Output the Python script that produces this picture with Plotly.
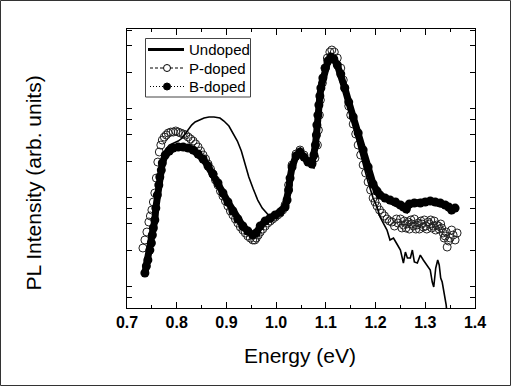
import plotly.graph_objects as go

# ---------------- data (y stored as log10 of PL intensity, arb. units) ----------------
undoped_energy = [0.736, 0.742, 0.746, 0.751, 0.756, 0.761, 0.766, 0.771, 0.777, 0.785, 0.793, 0.803,
                  0.811, 0.817, 0.823, 0.830, 0.837, 0.845, 0.855, 0.865, 0.875, 0.887,
                  0.895, 0.905, 0.913, 0.922, 0.930, 0.937, 0.945, 0.954, 0.963, 0.972,
                  0.980, 0.988, 0.998, 1.008, 1.018, 1.025, 1.032, 1.040, 1.048, 1.056,
                  1.064, 1.072, 1.078, 1.082, 1.085, 1.089, 1.093, 1.099, 1.105, 1.111,
                  1.117, 1.123, 1.130, 1.138, 1.146, 1.155, 1.165, 1.175, 1.185, 1.195,
                  1.203, 1.209, 1.216, 1.223, 1.229, 1.236, 1.243, 1.250, 1.256, 1.260,
                  1.264, 1.270, 1.274, 1.278, 1.284, 1.290, 1.296, 1.302, 1.306, 1.310,
                  1.314, 1.317, 1.321, 1.325, 1.328, 1.331, 1.334, 1.338, 1.342, 1.345]
undoped_log10 = [0.157, 0.315, 0.416, 0.596, 0.798, 1.079, 1.303, 1.449, 1.528, 1.584, 1.607, 1.629,
                 1.663, 1.708, 1.764, 1.809, 1.843, 1.865, 1.888, 1.899, 1.899, 1.888,
                 1.854, 1.798, 1.719, 1.629, 1.517, 1.382, 1.225, 1.090, 0.966, 0.876,
                 0.820, 0.775, 0.798, 0.831, 0.888, 1.079, 1.337, 1.461, 1.506, 1.449,
                 1.393, 1.371, 1.438, 1.562, 1.753, 2.090, 2.292, 2.449, 2.539, 2.584,
                 2.562, 2.517, 2.427, 2.225, 2.022, 1.820, 1.584, 1.360, 1.169, 0.989,
                 0.888, 0.775, 0.697, 0.629, 0.517, 0.539, 0.472, 0.404, 0.258, 0.382,
                 0.315, 0.315, 0.404, 0.270, 0.258, 0.348, 0.292, 0.247, 0.213, 0.180,
                 0.045, -0.011, 0.202, 0.292, 0.236, 0.090, 0.045, -0.079, -0.213, -0.382]

p_energy = [0.732, 0.736, 0.740, 0.744, 0.747, 0.750, 0.753, 0.756, 0.759, 0.762, 0.765, 0.768,
            0.771, 0.775, 0.779, 0.783, 0.788, 0.793, 0.798, 0.803, 0.808, 0.813, 0.818, 0.823,
            0.828, 0.833, 0.838, 0.843, 0.848, 0.853, 0.858, 0.863, 0.868, 0.873, 0.878, 0.883,
            0.888, 0.893, 0.898, 0.903, 0.908, 0.913, 0.918, 0.923, 0.928, 0.933, 0.938, 0.943,
            0.948, 0.953, 0.957, 0.960, 0.964, 0.968, 0.973, 0.978, 0.983, 0.988, 0.993, 0.998,
            1.003, 1.008, 1.013, 1.018, 1.025, 1.032, 1.040, 1.048, 1.056, 1.064, 1.072, 1.078,
            1.083, 1.085, 1.087, 1.089, 1.093, 1.098, 1.103, 1.108, 1.112, 1.117, 1.123, 1.130,
            1.135, 1.138, 1.146, 1.150, 1.155, 1.160, 1.165, 1.170, 1.175, 1.180, 1.185, 1.190,
            1.195, 1.199, 1.203, 1.208, 1.213, 1.218, 1.223, 1.228, 1.233, 1.238, 1.242, 1.245,
            1.250, 1.253, 1.256, 1.258, 1.261, 1.263, 1.266, 1.268, 1.271, 1.273, 1.276, 1.278,
            1.281, 1.283, 1.286, 1.288, 1.291, 1.293, 1.296, 1.298, 1.301, 1.303, 1.306, 1.308,
            1.311, 1.313, 1.316, 1.318, 1.321, 1.323, 1.326, 1.328, 1.331, 1.333, 1.336, 1.338,
            1.340, 1.342, 1.344, 1.347, 1.350, 1.353, 1.356, 1.360, 1.364]
p_log10 = [0.427, 0.517, 0.607, 0.719, 0.787, 0.854, 0.944, 1.045, 1.213, 1.393, 1.506, 1.584,
           1.640, 1.674, 1.697, 1.719, 1.730, 1.730, 1.742, 1.730, 1.719, 1.708, 1.697, 1.674,
           1.652, 1.629, 1.596, 1.562, 1.517, 1.472, 1.427, 1.371, 1.315, 1.258, 1.191, 1.135,
           1.067, 1.011, 0.955, 0.899, 0.843, 0.798, 0.753, 0.708, 0.663, 0.629, 0.596, 0.562,
           0.539, 0.517, 0.517, 0.539, 0.573, 0.607, 0.640, 0.674, 0.708, 0.730, 0.753, 0.775,
           0.798, 0.820, 0.854, 0.910, 1.135, 1.360, 1.483, 1.528, 1.472, 1.404, 1.382, 1.438,
           1.584, 1.753, 1.921, 2.090, 2.281, 2.449, 2.562, 2.629, 2.652, 2.629, 2.562, 2.449,
           2.315, 2.225, 2.022, 1.921, 1.820, 1.708, 1.584, 1.472, 1.360, 1.270, 1.169, 1.079,
           0.989, 0.944, 0.899, 0.854, 0.820, 0.787, 0.753, 0.730, 0.719, 0.674, 0.753, 0.708,
           0.753, 0.652, 0.685, 0.730, 0.652, 0.697, 0.719, 0.640, 0.742, 0.697, 0.674, 0.753,
           0.640, 0.685, 0.708, 0.640, 0.730, 0.697, 0.663, 0.742, 0.674, 0.640, 0.719, 0.697,
           0.742, 0.652, 0.674, 0.730, 0.629, 0.685, 0.674, 0.640, 0.697, 0.652, 0.596, 0.539,
           0.562, 0.607, 0.438, 0.506, 0.539, 0.629, 0.573, 0.517, 0.596]

b_energy = [0.736, 0.739, 0.742, 0.746, 0.749, 0.751, 0.753, 0.756, 0.758, 0.761, 0.764, 0.766,
            0.769, 0.771, 0.777, 0.785, 0.793, 0.803, 0.813, 0.823, 0.833, 0.843, 0.853, 0.863,
            0.873, 0.883, 0.893, 0.903, 0.913, 0.923, 0.933, 0.943, 0.953, 0.960, 0.968, 0.978,
            0.988, 0.998, 1.008, 1.018, 1.022, 1.025, 1.028, 1.032, 1.040, 1.048, 1.056, 1.064,
            1.072, 1.076, 1.079, 1.081, 1.082, 1.084, 1.086, 1.088, 1.090, 1.094, 1.099, 1.104,
            1.110, 1.116, 1.123, 1.130, 1.138, 1.146, 1.155, 1.165, 1.175, 1.185, 1.195, 1.203,
            1.209, 1.219, 1.229, 1.240, 1.250, 1.256, 1.262, 1.268, 1.278, 1.290, 1.300, 1.310,
            1.320, 1.330, 1.340, 1.347, 1.353, 1.360]
b_log10 = [0.146, 0.225, 0.292, 0.404, 0.483, 0.573, 0.652, 0.742, 0.876, 1.022, 1.135, 1.225,
           1.303, 1.382, 1.472, 1.517, 1.551, 1.562, 1.562, 1.551, 1.528, 1.483, 1.427, 1.348,
           1.258, 1.157, 1.045, 0.944, 0.843, 0.753, 0.674, 0.618, 0.573, 0.596, 0.674, 0.730,
           0.764, 0.798, 0.831, 0.888, 0.966, 1.079, 1.213, 1.337, 1.461, 1.506, 1.449, 1.393,
           1.371, 1.472, 1.584, 1.697, 1.809, 1.921, 2.034, 2.135, 2.225, 2.337, 2.449, 2.528,
           2.573, 2.551, 2.483, 2.382, 2.225, 2.067, 1.899, 1.719, 1.528, 1.337, 1.146, 1.067,
           1.022, 0.989, 0.966, 0.944, 0.910, 0.888, 0.865, 0.921, 0.933, 0.933, 0.944, 0.955,
           0.944, 0.933, 0.910, 0.888, 0.854, 0.876]

assert len(undoped_energy) == len(undoped_log10)
assert len(p_energy) == len(p_log10)
assert len(b_energy) == len(b_log10)

series_names = ["Undoped", "P-doped", "B-doped"]
x_tick_labels = ["0.7", "0.8", "0.9", "1.0", "1.1", "1.2", "1.3", "1.4"]
x_tick_values = [0.7, 0.8, 0.9, 1.0, 1.1, 1.2, 1.3, 1.4]
y_tick_values = [0.75, 1, 2.5, 5, 7.5, 10, 25, 50, 75, 100, 250, 500, 750]

FONT = "Liberation Sans, Arial, Helvetica, sans-serif"

# plot-area geometry in pixels (for placing the legend box / outer frame)
W, H = 512, 387
ML, MR, MT, MB = 127, 37, 29, 79
PW, PH = W - ML - MR, H - MT - MB


def px(xp):
    return (xp - ML) / PW


def py(yp):
    return (H - MB - yp) / PH


fig = go.Figure()

fig.add_trace(go.Scatter(
    x=p_energy, y=[10 ** v for v in p_log10], mode="markers", showlegend=False,
    name=series_names[1],
    marker=dict(symbol="circle-open", size=8, color="#222", line=dict(width=1, color="#222")),
))
fig.add_trace(go.Scatter(
    x=b_energy, y=[10 ** v for v in b_log10], mode="lines+markers", showlegend=False,
    name=series_names[2],
    line=dict(color="black", width=7),
    marker=dict(symbol="circle", size=9, color="black"),
))
fig.add_trace(go.Scatter(
    x=undoped_energy, y=[10 ** v for v in undoped_log10], mode="lines", showlegend=False,
    name=series_names[0],
    line=dict(color="black", width=1.6),
))

# ----- legend box drawn by hand (to match the compact row spacing) -----
row_y = [49.5, 68, 86.5]
shapes = [
    dict(type="rect", xref="paper", yref="paper", x0=px(145.5), x1=px(250.5), y0=py(97), y1=py(38.5),
         line=dict(color="#444", width=1), fillcolor="white", layer="above"),
    dict(type="line", xref="paper", yref="paper", x0=px(148), x1=px(184), y0=py(row_y[0]), y1=py(row_y[0]),
         line=dict(color="black", width=3), layer="above"),
    dict(type="line", xref="paper", yref="paper", x0=px(150), x1=px(184), y0=py(row_y[1]), y1=py(row_y[1]),
         line=dict(color="black", width=1, dash="3px,2px"), layer="above"),
    dict(type="line", xref="paper", yref="paper", x0=px(150), x1=px(184), y0=py(row_y[2]), y1=py(row_y[2]),
         line=dict(color="black", width=1, dash="1px,2px"), layer="above"),
    dict(type="circle", xref="paper", yref="paper", xsizemode="pixel", ysizemode="pixel",
         xanchor=px(167), yanchor=py(row_y[1]), x0=-3.5, x1=3.5, y0=-3.5, y1=3.5,
         line=dict(color="black", width=1), fillcolor="white", layer="above"),
    dict(type="circle", xref="paper", yref="paper", xsizemode="pixel", ysizemode="pixel",
         xanchor=px(167), yanchor=py(row_y[2]), x0=-3.5, x1=3.5, y0=-3.5, y1=3.5,
         line=dict(color="black", width=1), fillcolor="black", layer="above"),
    # outer frame of the picture
    dict(type="rect", xref="paper", yref="paper", x0=px(0.5), x1=px(510.5), y0=py(385.5), y1=py(0.5),
         line=dict(color="#333", width=1), fillcolor="rgba(0,0,0,0)", layer="above"),
]
annotations = [
    dict(text=name, xref="paper", yref="paper", x=px(187), y=py(yy), xanchor="left", yanchor="middle",
         showarrow=False, font=dict(size=15, family=FONT, color="black"))
    for name, yy in zip(series_names, row_y)
] + [
    dict(text="Energy (eV)", xref="paper", yref="paper", x=px(300), y=py(355),
         xanchor="center", yanchor="middle", showarrow=False,
         font=dict(size=21, family=FONT)),
    dict(text="PL Intensity (arb. units)", xref="paper", yref="paper", x=px(33), y=py(183.5),
         xanchor="center", yanchor="middle", showarrow=False, textangle=-90,
         font=dict(size=21, family=FONT)),
]

fig.update_layout(
    width=W, height=H,
    margin=dict(l=ML, r=MR, t=MT, b=MB),
    paper_bgcolor="white", plot_bgcolor="white",
    font=dict(family=FONT, color="black"),
    showlegend=False,
    hovermode=False,
    xaxis=dict(range=[0.7, 1.4], showgrid=False, zeroline=False,
               tickvals=x_tick_values, ticktext=x_tick_labels,
               ticks="inside", ticklen=6, tickwidth=1, tickcolor="black",
               minor=dict(ticks="inside", dtick=0.05, tick0=0.7, ticklen=3, tickcolor="black", showgrid=False),
               showline=True, linecolor="black", linewidth=1, mirror="ticks",
               tickfont=dict(size=16, family=FONT, weight="bold")),
    yaxis=dict(type="log", range=[-0.247, 2.888], showgrid=False, zeroline=False,
               tickvals=y_tick_values, showticklabels=False,
               ticks="inside", ticklen=5, tickwidth=1, tickcolor="black",
               showline=True, linecolor="black", linewidth=1, mirror="ticks"),
    annotations=annotations,
    shapes=shapes,
)

fig.write_html("out.html", config={"displayModeBar": False},
               post_script="document.body.style.margin='0';")
